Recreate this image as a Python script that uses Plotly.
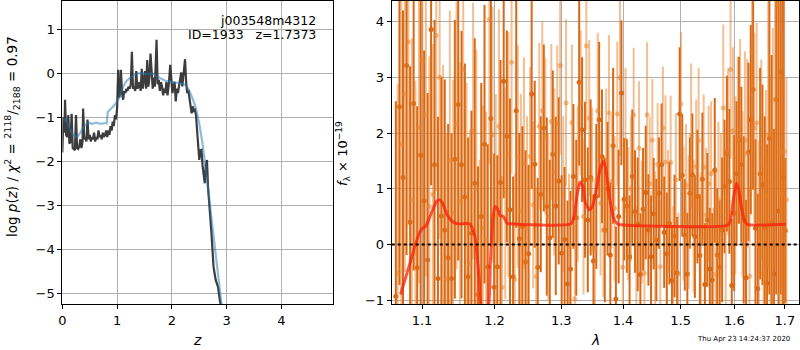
import plotly.graph_objects as go

# ---------------- left panel: redshift PDF ----------------
z_pz = [0.00, 0.02, 0.04, 0.05, 0.07, 0.09, 0.11, 0.13, 0.15, 0.17,
        0.19, 0.21, 0.23, 0.25, 0.27, 0.29, 0.31, 0.33, 0.35, 0.37,
        0.38, 0.40, 0.42, 0.44, 0.46, 0.48, 0.50, 0.52, 0.54, 0.56,
        0.58, 0.60, 0.62, 0.64, 0.66, 0.68, 0.70, 0.72, 0.74, 0.76,
        0.78, 0.80, 0.82, 0.84, 0.86, 0.88, 0.90, 0.92, 0.94, 0.96,
        0.98, 1.00, 1.02, 1.04, 1.06, 1.07, 1.09, 1.11, 1.13, 1.15,
        1.17, 1.19, 1.21, 1.23, 1.25, 1.27, 1.29, 1.31, 1.33, 1.35,
        1.37, 1.39, 1.41, 1.43, 1.45, 1.47, 1.49, 1.51, 1.53, 1.55,
        1.57, 1.59, 1.61, 1.63, 1.65, 1.67, 1.69, 1.72, 1.74, 1.76,
        1.78, 1.80, 1.82, 1.84, 1.86, 1.88, 1.90, 1.92, 1.94, 1.97,
        1.99, 2.01, 2.03, 2.05, 2.07, 2.09, 2.11, 2.13, 2.15, 2.17,
        2.19, 2.21, 2.24, 2.26, 2.28, 2.30, 2.32, 2.34, 2.36, 2.38,
        2.40, 2.42, 2.44, 2.46, 2.48, 2.50, 2.52, 2.54, 2.56, 2.58,
        2.60, 2.62, 2.64, 2.66, 2.68, 2.72, 2.76, 2.80, 2.84, 2.88,
        2.92]
logp_pz = [-1.80, -1.00, -1.35, -0.60, -1.40, -1.45, -0.95, -1.60, -1.55, -0.92,
           -1.70, -1.72, -1.75, -0.95, -1.70, -1.72, -1.65, -1.50, -1.70, -1.55,
           -0.80, -1.50, -1.45, -1.55, -1.05, -1.50, -1.40, -1.55, -1.45, -1.50,
           -1.35, -1.55, -1.45, -1.50, -1.30, -1.45, -1.40, -1.50, -1.35, -1.45,
           -1.40, -1.30, -1.45, -1.30, -1.40, -1.20, -1.30, -1.10, -1.20, -0.95,
           -1.05, -0.80, 0.08, -0.55, -0.40, 0.08, -0.45, -0.60, -0.40, -0.45,
           -0.35, -0.40, -0.30, -0.35, -0.25, 0.49, -0.35, -0.30, -0.40, 0.05,
           -0.35, -0.30, -0.20, -0.40, 0.10, -0.35, -0.20, 0.05, -0.35, 0.30,
           -0.30, -0.10, 0.45, -0.05, -0.35, -0.10, -0.30, 0.76, -0.25, -0.15,
           -0.40, -0.20, -0.30, -0.50, -0.35, -0.45, -0.20, -0.50, -0.30, 0.19,
           -0.25, -0.45, -0.30, -0.20, -0.64, -0.35, -0.45, -0.25, -0.10, 0.02,
           -0.30, -0.10, 0.32, -0.20, -0.45, -0.38, -0.60, -0.80, -0.91, -0.75,
           -0.85, -0.83, -0.95, -1.30, -1.60, -1.97, -1.75, -1.74, -2.10, -2.40,
           -2.50, -2.10, -1.97, -2.60, -2.88, -3.60, -4.40, -4.70, -4.85, -5.20,
           -5.40]

z_fit = [0.00, 0.05, 0.10, 0.15, 0.20, 0.27, 0.33, 0.40, 0.47, 0.55,
         0.62, 0.70, 0.78, 0.81, 0.83, 0.90, 0.97, 1.02, 1.07, 1.12,
         1.17, 1.22, 1.30, 1.38, 1.46, 1.55, 1.63, 1.72, 1.80, 1.88,
         1.96, 2.04, 2.12, 2.20, 2.26, 2.32, 2.38, 2.44, 2.50, 2.56,
         2.62, 2.68, 2.74, 2.80, 2.86, 2.92]
logp_fit = [-1.05, -1.05, -1.15, -1.30, -1.40, -1.45, -1.35, -1.20, -1.12, -1.15,
            -1.12, -1.15, -1.13, -1.14, -0.88, -0.80, -0.70, -0.60, -0.45, -0.28,
            -0.18, -0.12, -0.05, 0.00, 0.00, -0.02, 0.00, -0.05, -0.12, -0.17,
            -0.18, -0.20, -0.22, -0.24, -0.28, -0.40, -0.58, -0.80, -1.15, -1.60,
            -2.20, -2.85, -3.45, -4.10, -4.75, -5.40]

# ---------------- right panel: 1D spectrum ----------------
lam_a = [1.0660, 1.0706, 1.0752, 1.0798, 1.0844, 1.0890, 1.0936, 1.0982, 1.1028, 1.1074,
         1.1120, 1.1166, 1.1212, 1.1258, 1.1304, 1.1350, 1.1396, 1.1442, 1.1488, 1.1534,
         1.1580, 1.1626, 1.1672, 1.1718, 1.1764, 1.1810, 1.1856, 1.1902, 1.1948, 1.1994,
         1.2040, 1.2086, 1.2132, 1.2178, 1.2224, 1.2270, 1.2316, 1.2362, 1.2408, 1.2454,
         1.2500, 1.2546, 1.2592, 1.2638, 1.2684, 1.2730, 1.2776, 1.2822, 1.2868, 1.2914,
         1.2960, 1.3006, 1.3052, 1.3098, 1.3144, 1.3190, 1.3236, 1.3282, 1.3328, 1.3374,
         1.3420, 1.3466, 1.3512, 1.3558, 1.3604, 1.3650, 1.3696, 1.3742, 1.3788, 1.3834,
         1.3880, 1.3926, 1.3972, 1.4018, 1.4064, 1.4110, 1.4156, 1.4202, 1.4248, 1.4294,
         1.4340, 1.4386, 1.4432, 1.4478, 1.4524, 1.4570, 1.4616, 1.4662, 1.4708, 1.4754,
         1.4800, 1.4846, 1.4892, 1.4938, 1.4984, 1.5030, 1.5076, 1.5122, 1.5168, 1.5214,
         1.5260, 1.5306, 1.5352, 1.5398, 1.5444, 1.5490, 1.5536, 1.5582, 1.5628, 1.5674,
         1.5720, 1.5766, 1.5812, 1.5858, 1.5904, 1.5950, 1.5996, 1.6042, 1.6088, 1.6134,
         1.6180, 1.6226, 1.6272, 1.6318, 1.6364, 1.6410, 1.6456, 1.6502, 1.6548, 1.6594,
         1.6640, 1.6686, 1.6732, 1.6778, 1.6824, 1.6870, 1.6916, 1.6962, 1.7008]
flux_a = [-0.93, 2.47, 1.20, 3.21, 0.40, 2.53, -0.42, 1.60, 0.78, -0.28,
          3.86, 1.43, -0.61, 0.51, 0.26, -0.24, -0.61, 1.53, 2.51, 1.43,
          0.85, -0.58, 0.20, 1.10, -0.90, 0.50, 1.80, -0.40, 2.26, -0.77,
          -0.40, 1.11, 2.93, 1.94, 0.62, -0.58, 2.40, 0.10, 0.32, -0.31,
          -0.17, 2.70, 1.44, -0.41, 0.90, 2.09, 0.68, 0.12, 1.62, 0.69,
          1.14, -0.16, 0.09, -0.71, -0.44, 1.22, 0.48, 2.91, 2.06, 1.16,
          0.44, 1.20, -0.30, 0.86, 2.24, 1.58, 0.26, 1.00, -0.19, 1.77,
          -0.98, 0.50, 2.72, 0.81, 0.69, -0.22, 1.22, 0.59, 0.36, -0.54,
          0.63, 0.93, 0.26, -0.22, 0.55, 0.08, 0.92, 1.43, 0.22, -0.17,
          0.38, -0.65, 0.15, -0.51, 2.34, 1.24, 0.17, -0.53, 0.92, 1.25,
          0.14, 0.86, -0.20, 1.17, -0.72, 0.44, -0.44, -0.64, 1.33, -0.19,
          -0.41, 0.26, 1.04, 1.63, 1.13, -0.74, 0.56, 1.27, 1.87, 1.43,
          0.44, -0.60, 1.66, 2.24, 2.78, 0.29, -0.79, 1.27, 1.07, 0.30,
          -0.70, 1.90, 0.40, -0.53, 2.60, 0.60, 3.10, 1.20, 0.25]
err_a = [3.5, 3.2, 3.0, 3.4, 2.8, 3.0, 2.9, 3.1, 2.7, 3.0,
         2.8, 2.6, 2.9, 2.5, 2.7, 2.4, 2.6, 2.5, 2.8, 2.4,
         2.4, 2.5, 2.2, 2.6, 2.3, 2.4, 2.5, 2.2, 2.3, 2.4,
         2.0, 2.2, 2.1, 1.9, 2.0, 1.8, 2.1, 1.9, 1.8, 2.0,
         1.6, 1.7, 1.5, 1.6, 1.4, 1.5, 1.6, 1.4, 1.5, 1.6,
         1.5, 1.4, 1.3, 1.5, 1.4, 1.3, 1.4, 1.5, 1.3, 1.4,
         1.3, 1.4, 1.2, 1.3, 1.4, 1.2, 1.3, 1.2, 1.3, 1.4,
         1.3, 1.2, 1.3, 1.1, 1.2, 1.1, 1.2, 1.1, 1.2, 1.1,
         1.1, 1.2, 1.0, 1.1, 1.0, 1.1, 1.0, 1.1, 1.0, 1.1,
         1.1, 1.0, 1.1, 1.0, 1.2, 1.1, 1.0, 1.1, 1.0, 1.1,
         1.1, 1.2, 1.1, 1.2, 1.1, 1.2, 1.1, 1.2, 1.3, 1.2,
         1.2, 1.3, 1.2, 1.4, 1.3, 1.2, 1.4, 1.3, 1.5, 1.4,
         1.5, 1.4, 1.6, 1.7, 1.8, 1.6, 1.7, 1.9, 1.8, 2.0,
         2.5, 2.8, 3.0, 2.6, 3.5, 3.8, 4.0, 3.6, 1.3]

lam_b = [1.0683, 1.0729, 1.0775, 1.0821, 1.0867, 1.0913, 1.0959, 1.1005, 1.1051, 1.1097,
         1.1143, 1.1189, 1.1235, 1.1281, 1.1327, 1.1373, 1.1419, 1.1465, 1.1511, 1.1557,
         1.1603, 1.1649, 1.1695, 1.1741, 1.1787, 1.1833, 1.1879, 1.1925, 1.1971, 1.2017,
         1.2063, 1.2109, 1.2155, 1.2201, 1.2247, 1.2293, 1.2339, 1.2385, 1.2431, 1.2477,
         1.2523, 1.2569, 1.2615, 1.2661, 1.2707, 1.2753, 1.2799, 1.2845, 1.2891, 1.2937,
         1.2983, 1.3029, 1.3075, 1.3121, 1.3167, 1.3213, 1.3259, 1.3305, 1.3351, 1.3397,
         1.3443, 1.3489, 1.3535, 1.3581, 1.3627, 1.3673, 1.3719, 1.3765, 1.3811, 1.3857,
         1.3903, 1.3949, 1.3995, 1.4041, 1.4087, 1.4133, 1.4179, 1.4225, 1.4271, 1.4317,
         1.4363, 1.4409, 1.4455, 1.4501, 1.4547, 1.4593, 1.4639, 1.4685, 1.4731, 1.4777,
         1.4823, 1.4869, 1.4915, 1.4961, 1.5007, 1.5053, 1.5099, 1.5145, 1.5191, 1.5237,
         1.5283, 1.5329, 1.5375, 1.5421, 1.5467, 1.5513, 1.5559, 1.5605, 1.5651, 1.5697,
         1.5743, 1.5789, 1.5835, 1.5881, 1.5927, 1.5973, 1.6019, 1.6065, 1.6111, 1.6157,
         1.6203, 1.6249, 1.6295, 1.6341, 1.6387, 1.6433, 1.6479, 1.6525, 1.6571, 1.6617,
         1.6663, 1.6709, 1.6755, 1.6801, 1.6847, 1.6893, 1.6939, 1.6985, 1.7031]
flux_b = [-0.52, 1.80, 2.70, 3.64, 0.80, -0.16, 2.10, 3.30, 2.33, 0.68,
          0.90, 3.75, 3.00, 0.72, -0.61, 1.50, 0.56, 2.16, 0.77, 3.14,
          0.40, -0.34, 2.04, 1.00, -0.88, 0.30, 0.08, 4.04, 1.97, 0.50,
          2.12, -0.77, 0.92, 1.62, 3.27, -0.63, 1.58, 0.60, 1.46, 0.30,
          1.58, 0.71, -0.57, 2.12, 2.40, 1.94, 0.50, 2.20, 1.30, 2.17,
          3.21, 0.90, 2.54, -0.03, 2.19, -0.98, 1.09, 2.54, 0.50, 3.56,
          2.27, 1.16, -0.07, 2.40, 0.74, 0.26, 1.50, 2.36, 1.13, 0.65,
          2.34, 2.99, -0.41, 1.87, 0.55, 1.00, 2.33, -0.40, 1.73, 0.40,
          -0.52, 2.33, 1.09, 1.87, 0.11, 1.44, -0.40, 2.09, 1.48, 0.60,
          1.47, -0.41, 1.16, -0.53, 2.52, 0.55, 1.06, 0.40, 1.95, 0.32,
          1.40, 1.87, 0.10, 1.39, 0.53, 1.09, 1.27, -0.54, 0.09, 0.80,
          0.60, 2.45, 0.32, 1.66, 3.14, 2.04, 1.06, 1.87, 2.09, 0.90,
          1.87, 1.63, -0.57, 3.46, 2.09, 2.18, -0.04, 1.52, -0.52, 0.87,
          1.97, 0.40, 1.09, 2.60, 4.30, 1.66, 0.90, 1.67, 0.80]
err_b = [3.4, 3.0, 3.2, 3.3, 2.9, 3.1, 2.8, 3.0, 2.9, 2.7,
         2.7, 2.8, 2.9, 2.5, 2.6, 2.7, 2.4, 2.6, 2.5, 2.8,
         2.5, 2.4, 2.3, 2.5, 2.4, 2.2, 2.3, 2.6, 2.3, 2.2,
         2.1, 2.0, 1.9, 2.2, 2.0, 1.9, 2.0, 2.1, 1.9, 2.0,
         1.6, 1.5, 1.6, 1.5, 1.6, 1.4, 1.5, 1.4, 1.5, 1.4,
         1.6, 1.4, 1.5, 1.3, 1.4, 1.5, 1.4, 1.3, 1.4, 1.5,
         1.4, 1.3, 1.2, 1.4, 1.3, 1.2, 1.3, 1.4, 1.2, 1.3,
         1.3, 1.4, 1.2, 1.3, 1.2, 1.3, 1.2, 1.1, 1.2, 1.1,
         1.2, 1.3, 1.2, 1.1, 1.2, 1.1, 1.2, 1.1, 1.2, 1.1,
         1.2, 1.1, 1.2, 1.1, 1.3, 1.2, 1.1, 1.2, 1.3, 1.2,
         1.2, 1.3, 1.2, 1.3, 1.2, 1.4, 1.3, 1.2, 1.3, 1.4,
         1.4, 1.5, 1.4, 1.5, 1.6, 1.5, 1.6, 1.5, 1.6, 1.5,
         1.6, 1.7, 1.6, 1.8, 1.7, 1.8, 1.9, 1.8, 2.0, 1.9,
         2.4, 2.6, 2.8, 3.0, 3.4, 3.2, 2.9, 3.0, 2.2]

lam_model = [1.072, 1.085, 1.095, 1.100, 1.105, 1.112, 1.120, 1.124, 1.128, 1.133,
             1.140, 1.148, 1.165, 1.168, 1.172, 1.178, 1.182, 1.190, 1.194, 1.198,
             1.201, 1.205, 1.208, 1.213, 1.218, 1.222, 1.315, 1.320, 1.325, 1.330,
             1.334, 1.338, 1.345, 1.350, 1.356, 1.362, 1.368, 1.372, 1.378, 1.385,
             1.392, 1.400, 1.588, 1.593, 1.598, 1.604, 1.608, 1.614, 1.620, 1.625,
             1.702]
flux_model = [-0.90, -0.30, 0.15, 0.28, 0.33, 0.55, 0.78, 0.80, 0.72, 0.55,
              0.42, 0.37, 0.37, 0.30, 0.15, -0.60, -1.20, -1.20, -0.30, 0.50,
              0.68, 0.62, 0.52, 0.50, 0.38, 0.37, 0.37, 0.50, 0.90, 1.12,
              1.05, 0.75, 0.62, 0.70, 1.00, 1.35, 1.50, 1.30, 0.80, 0.45,
              0.36, 0.35, 0.35, 0.45, 0.80, 1.10, 1.00, 0.65, 0.42, 0.36,
              0.36]

lam_ticks = [1.1, 1.2, 1.3, 1.4, 1.5, 1.6, 1.7]
lam_tick_text = ["1.1", "1.2", "1.3", "1.4", "1.5", "1.6", "1.7"]

FONT = "DejaVu Sans"
DARK = "rgb(216,104,22)"
LIGHT = "rgba(232,128,40,0.5)"

fig = go.Figure()

# left panel
fig.add_trace(go.Scatter(x=z_pz, y=logp_pz, mode="lines",
                         line=dict(color="rgba(40,40,40,0.9)", width=2.2),
                         xaxis="x", yaxis="y", showlegend=False))
fig.add_trace(go.Scatter(x=z_fit, y=logp_fit, mode="lines",
                         line=dict(color="rgba(31,119,180,0.5)", width=2.2),
                         xaxis="x", yaxis="y", showlegend=False))

# right panel
fig.add_trace(go.Scatter(x=lam_a, y=flux_a, mode="markers",
                         marker=dict(color=DARK, size=5),
                         error_y=dict(type="data", array=err_a, color=DARK,
                                      thickness=2.0, width=0),
                         xaxis="x2", yaxis="y2", showlegend=False))
fig.add_trace(go.Scatter(x=lam_b, y=flux_b, mode="markers",
                         marker=dict(color=LIGHT, size=5),
                         error_y=dict(type="data", array=err_b, color=LIGHT,
                                      thickness=2.0, width=0),
                         xaxis="x2", yaxis="y2", showlegend=False))
fig.add_trace(go.Scatter(x=lam_model, y=flux_model, mode="lines",
                         line=dict(color="rgba(255,30,10,0.75)", width=3, shape="spline", smoothing=0.6),
                         xaxis="x2", yaxis="y2", showlegend=False))
fig.add_trace(go.Scatter(x=[1.0607, 1.729], y=[0, 0], mode="lines",
                         line=dict(color="black", width=2, dash="dot"),
                         xaxis="x2", yaxis="y2", showlegend=False))

ax_common = dict(showline=True, mirror=True, linecolor="black", linewidth=1,
                 showgrid=True, gridcolor="#b0b0b0", gridwidth=1, automargin=False,
                 zeroline=False, ticks="outside", ticklen=4, tickcolor="black",
                 tickfont=dict(family=FONT, size=13, color="black"))

ydom = [1 - 304 / 350, 1 - 1 / 350]
fig.update_layout(
    width=800, height=350,
    margin=dict(l=0, r=0, t=0, b=0, autoexpand=False),
    paper_bgcolor="white", plot_bgcolor="white",
    xaxis=dict(domain=[62.3 / 800, 333 / 800], range=[0, 4.94],
               tickvals=[0, 1, 2, 3, 4], anchor="y", **ax_common),
    yaxis=dict(domain=ydom, range=[-5.243, 1.643],
               tickvals=[-5, -4, -3, -2, -1, 0, 1], anchor="x", **ax_common),
    xaxis2=dict(domain=[391.7 / 800, 799 / 800], type="log",
                range=[0.02559, 0.23779], tickvals=lam_ticks, ticktext=lam_tick_text,
                anchor="y2", **ax_common),
    yaxis2=dict(domain=ydom, range=[-1.07, 4.37],
                tickvals=[-1, 0, 1, 2, 3, 4], anchor="x2", **ax_common),
)

annos = [
    dict(text="j003548m4312", x=318 / 800, y=1 - 20 / 350, xanchor="right", yanchor="middle",
         font=dict(family=FONT, size=12.5, color="black")),
    dict(text="ID=1933   z=1.7373", x=318 / 800, y=1 - 35 / 350, xanchor="right", yanchor="middle",
         font=dict(family=FONT, size=12.5, color="black")),
    dict(text="<i>z</i>", x=197 / 800, y=1 - 340 / 350, xanchor="center", yanchor="middle",
         font=dict(family=FONT, size=14, color="black")),
    dict(text="<i>λ</i>", x=595 / 800, y=1 - 340 / 350, xanchor="center", yanchor="middle",
         font=dict(family=FONT, size=14, color="black")),
    dict(text="log <i>p</i>(<i>z</i>) / <i>χ</i><sup>2</sup> = <sup>2118</sup>/<sub>2188</sub> = 0.97",
         x=12 / 800, y=1 - 137 / 350, xanchor="center", yanchor="middle", textangle=-90,
         font=dict(family=FONT, size=13.5, color="black")),
    dict(text="<i>f</i><sub>λ</sub> × 10<sup>−19</sup>",
         x=343 / 800, y=1 - 154 / 350, xanchor="center", yanchor="middle", textangle=-90,
         font=dict(family=FONT, size=13, color="black")),
    dict(text="Thu Apr 23 14:24:37 2020", x=743 / 800, y=1 - 339 / 350,
         xanchor="center", yanchor="middle",
         font=dict(family=FONT, size=7, color="black")),
]
for a in annos:
    a.update(xref="paper", yref="paper", showarrow=False)
fig.update_layout(annotations=annos)

fig.write_html("out.html", config={"displayModeBar": False},
               post_script="document.body.style.margin='0';document.body.style.padding='0';")
